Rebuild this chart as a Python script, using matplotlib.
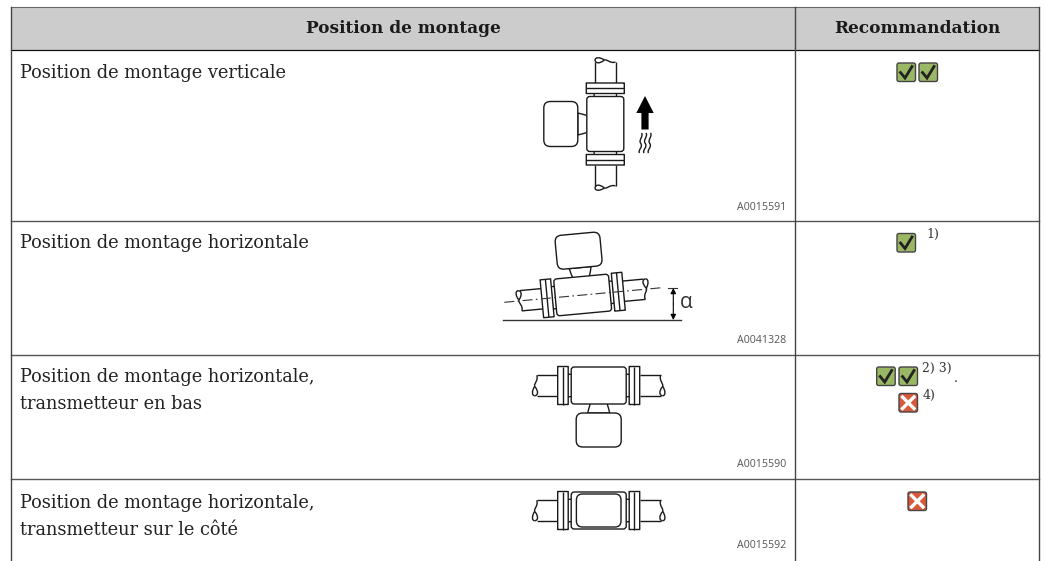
import matplotlib
matplotlib.use("Agg")
import matplotlib.pyplot as plt
from matplotlib.path import Path
from matplotlib.patches import PathPatch, Rectangle, Polygon
from matplotlib.transforms import Affine2D

header_labels = ["Position de montage", "Recommandation"]
row_labels = [
    ["Position de montage verticale"],
    ["Position de montage horizontale"],
    ["Position de montage horizontale,", "transmetteur en bas"],
    ["Position de montage horizontale,", "transmetteur sur le côté"],
]
figure_codes = ["A0015591", "A0041328", "A0015590", "A0015592"]
row_marks = [["ok", "ok"], ["ok"], ["ok", "ok"], ["no"]]
extra_marks = ["no"]
row_notes = ["", "1)", "2) 3)", ""]
extra_notes = ["4)"]

INK = "#1a1a1a"
SERIF = "DejaVu Serif"

fig = plt.figure(figsize=(10.45, 5.61), dpi=100)
ax = fig.add_axes([0, 0, 1, 1])
ax.set_xlim(0, 1045)
ax.set_ylim(561, 0)
ax.axis("off")

# tableau
ax.add_patch(Rectangle((11, 7), 1028, 43, fc="#cccccc", ec="none", zorder=0))
ax.plot([11, 1039], [7, 7], color="#666666", lw=0.8)
ax.plot([11, 1039], [50, 50], color="#111111", lw=0.9)
for y in [221, 355, 479]:
    ax.plot([11, 1039], [y, y], color="#555555", lw=1.0)
for x in [11, 795, 1039]:
    ax.plot([x, x], [7, 561], color="#444444", lw=1.0)

ax.text(403, 28, header_labels[0], family=SERIF, fontsize=12.2, weight="bold",
        ha="center", va="center", color="#1a1a1a")
ax.text(917, 28, header_labels[1], family=SERIF, fontsize=12.2, weight="bold",
        ha="center", va="center", color="#1a1a1a")

label_y = [77.7, 248.3, 382.3, 508.3]
for lines, y in zip(row_labels, label_y):
    for i, line in enumerate(lines):
        ax.text(20, y + i * 26.7, line, family=SERIF, fontsize=12.75, ha="left", va="baseline",
                color="#222222")

code_y = [207, 340, 464, 546]
for code, y in zip(figure_codes, code_y):
    ax.text(786, y, code, family="Open Sans", fontsize=7.7, ha="right", va="center", color="#555555")


# dessin de l'appareil
def round_rect(u0, v0, u1, v1, r):
    verts = [(u0 + r, v0), (u1 - r, v0), (u1, v0), (u1, v0 + r), (u1, v1 - r), (u1, v1),
             (u1 - r, v1), (u0 + r, v1), (u0, v1), (u0, v1 - r), (u0, v0 + r), (u0, v0), (u0 + r, v0)]
    codes = [Path.MOVETO, Path.LINETO, Path.CURVE3, Path.CURVE3, Path.LINETO, Path.CURVE3, Path.CURVE3,
             Path.LINETO, Path.CURVE3, Path.CURVE3, Path.LINETO, Path.CURVE3, Path.CURVE3]
    return Path(verts, codes)


def add_path(path, tr, fc="white", lw=1.0, z=2):
    ax.add_patch(PathPatch(path.transformed(tr), fc=fc, ec=INK, lw=lw, zorder=z))


def pipe_end(u0, h, sign, tr):
    # coupure du tube
    s = Path([(u0, -h), (u0 - 2 * sign, -h * 0.5), (u0 + 3 * sign, -h * 0.2), (u0 + 2 * sign, h * 0.1),
              (u0 - 2.5 * sign, h * 0.6), (u0 - 1 * sign, h), (u0 + 2 * sign, h)],
             [Path.MOVETO, Path.CURVE4, Path.CURVE4, Path.CURVE4, Path.CURVE4, Path.CURVE4, Path.CURVE4])
    t = Path([(u0 + 2 * sign, h * 0.1), (u0 + 5 * sign, h * 0.5), (u0 + 5 * sign, h), (u0 + 2 * sign, h)],
             [Path.MOVETO, Path.CURVE4, Path.CURVE4, Path.CURVE4])
    ax.add_patch(PathPatch(s.transformed(tr), fc="none", ec=INK, lw=1.0, zorder=3))
    ax.add_patch(PathPatch(t.transformed(tr), fc="none", ec=INK, lw=1.0, zorder=3))


def meter(tr, transmitter="out"):
    pipe_h = 10.2
    for sign in [-1, 1]:
        a, b = sorted([sign * 41, sign * 62])
        add_path(Path([(a, -pipe_h), (b, -pipe_h)]), tr, fc="none", z=1)
        add_path(Path([(a, pipe_h), (b, pipe_h)]), tr, fc="none", z=1)
        pipe_end(sign * 62, pipe_h, sign, tr)
        a, b = sorted([sign * 27, sign * 31])
        add_path(round_rect(a, -pipe_h - 1, b, pipe_h + 1, 0.01), tr, z=2)
        a, b = sorted([sign * 30.5, sign * 41])
        add_path(round_rect(a, -19, b, 19, 0.01), tr, z=3)
        mid = sign * 35.7
        add_path(Path([(mid, -19), (mid, 19)]), tr, fc="none", z=3)
    add_path(round_rect(-27.5, -18.5, 27.5, 18.5, 3), tr, z=4)
    if transmitter == "side":
        add_path(round_rect(-22.3, -16.5, 22.3, 16.5, 6), tr, z=5)
    else:
        neck = Path([(-8.5, 18.5), (-10, 23), (-11, 27.5), (11, 27.5), (10, 23), (8.5, 18.5)],
                    [Path.MOVETO, Path.CURVE3, Path.CURVE3, Path.LINETO, Path.CURVE3, Path.CURVE3])
        add_path(neck, tr, z=3)
        add_path(round_rect(-22.5, 27.5, 22.5, 61.5, 6.5), tr, z=5)


meter(Affine2D().rotate_deg(90).translate(605.3, 124))
meter(Affine2D().scale(1, -1).rotate_deg(-5.3).translate(582.7, 295))
meter(Affine2D().translate(598.7, 385.5))
meter(Affine2D().translate(598.7, 510.5), transmitter="side")

# fleche et ondes
ax.add_patch(Polygon([(645, 96), (653.7, 113), (648.6, 113), (648.6, 129.5), (641.4, 129.5),
                      (641.4, 113), (636.3, 113)], fc="black", ec="none", zorder=3))
for x in [640.5, 645, 649.5]:
    wave = Path([(x + 1, 133), (x + 3.2, 136), (x - 2, 140), (x, 143),
                 (x + 3.2, 147), (x - 3, 150), (x - 1, 153)],
                [Path.MOVETO, Path.CURVE4, Path.CURVE4, Path.CURVE4, Path.CURVE4, Path.CURVE4, Path.CURVE4])
    ax.add_patch(PathPatch(wave, fc="none", ec=INK, lw=1.0, zorder=3))

# inclinaison
ax.plot([504.3, 661.7], [302.3, 287.7], color="#333333", lw=0.8, ls=(0, (9, 3, 1.5, 3)), zorder=6)
ax.plot([502.7, 681], [320, 320], color="#333333", lw=1.0)
ax.plot([668, 677], [288, 288], color="#333333", lw=0.8)
ax.annotate("", xy=(673.3, 288), xytext=(673.3, 304),
            arrowprops=dict(arrowstyle="-|>", color="black", lw=0.8, mutation_scale=8, shrinkA=0, shrinkB=0))
ax.annotate("", xy=(673.3, 320), xytext=(673.3, 304),
            arrowprops=dict(arrowstyle="-|>", color="black", lw=0.8, mutation_scale=8, shrinkA=0, shrinkB=0))
ax.text(686.5, 302, "α", family="Open Sans", fontsize=15, ha="center", va="center", color="#333333")


# symboles
def draw_mark(kind, x, y):
    size = 18.5
    fc = "#9ab765" if kind == "ok" else "#d9583b"
    ax.add_patch(PathPatch(round_rect(x, y, x + size, y + size, 2), fc=fc, ec="#444444", lw=1.0, zorder=3))
    if kind == "ok":
        ax.plot([x + 3.5, x + 8, x + 15], [y + 9.5, y + 15, y + 3.5], color="#222222", lw=2.0,
                solid_joinstyle="miter", zorder=4)
    else:
        ax.plot([x + 3.5, x + 15], [y + 3.5, y + 15], color="white", lw=2.4, zorder=4)
        ax.plot([x + 3.5, x + 15], [y + 15, y + 3.5], color="white", lw=2.4, zorder=4)


mark_x = [[897, 919], [897], [876.7, 899], [908]]
mark_y = [63, 233.5, 367, 492]
for kinds, xs, y in zip(row_marks, mark_x, mark_y):
    for kind, x in zip(kinds, xs):
        draw_mark(kind, x, y)
for kind in extra_marks:
    draw_mark(kind, 899, 393.5)

note_xy = [(0, 0), (926, 234), (922, 368), (0, 0)]
for note, (x, y) in zip(row_notes, note_xy):
    if note:
        ax.text(x, y, note, family=SERIF, fontsize=9, ha="left", va="center", color="#333333")
ax.text(923, 395, extra_notes[0], family=SERIF, fontsize=9, ha="left", va="center", color="#333333")
ax.text(955.7, 378, ".", family=SERIF, fontsize=9, ha="center", va="center", color="#222222")

fig.savefig("out.png", dpi=100)
